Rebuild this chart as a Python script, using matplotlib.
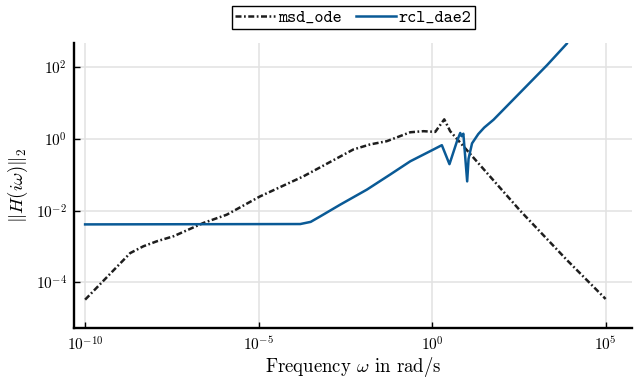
import numpy as np
import matplotlib
matplotlib.use('Agg')
import matplotlib.pyplot as plt

# frequency response magnitudes, read in log10 units
msd_logw = [-10, -8.7, -8.32, -7.93, -7.45, -6.59, -5.92, -4.96, -3.71, -2.27,
            -1.79, -1.31, -0.63, -0.25, 0.09, 0.35, 0.52, 2.54, 3.88, 5.0]
msd_logH = [-4.48, -3.18, -2.99, -2.85, -2.71, -2.34, -2.11, -1.60, -1.04, -0.29,
            -0.15, -0.06, 0.19, 0.22, 0.20, 0.55, 0.22, -2.0, -3.37, -4.46]

rcl_logw = [-10, -3.8, -3.5, -3.23, -2.65, -1.88, -1.21, -0.63, 0.04, 0.28, 0.50,
            0.72, 0.81, 0.85, 0.90, 1.01, 1.05, 1.15, 1.33, 1.5, 1.77, 2.54, 3.31, 3.88]
rcl_logH = [-2.38, -2.37, -2.31, -2.16, -1.83, -1.41, -0.99, -0.62, -0.29, -0.17, -0.70,
            -0.05, 0.17, 0.08, 0.15, -1.18, -0.55, -0.12, 0.14, 0.32, 0.54, 1.30, 2.06, 2.66]

xticks = [1e-10, 1e-5, 1e0, 1e5]
yticks = [1e-4, 1e-2, 1e0, 1e2]

plt.rcParams['font.family'] = 'serif'
plt.rcParams['font.serif'] = ['cmr10']
plt.rcParams['mathtext.fontset'] = 'cm'
plt.rcParams['axes.formatter.use_mathtext'] = True

fig = plt.figure(figsize=(6.35, 3.78), dpi=100)
ax = fig.add_axes([74/635, 50/378, 558/635, 285/378])

ax.plot(10.0**np.array(msd_logw), 10.0**np.array(msd_logH), color='#1e1e1e',
        lw=1.8, linestyle=(0, (2.4, 1.0, 0.7, 1.0)), label='msd_ode')
ax.plot(10.0**np.array(rcl_logw), 10.0**np.array(rcl_logH), color='#0a5a96',
        lw=1.8, label='rcl_dae2')

ax.set_xscale('log')
ax.set_yscale('log')
ax.set_xlim(10**-10.32, 10**5.76)
ax.set_ylim(10**-5.27, 10**2.68)
ax.set_xticks(xticks)
ax.set_yticks(yticks)
ax.minorticks_off()
ax.tick_params(direction='in', length=4, width=1, labelsize=11, pad=5)
ax.grid(True, color='#e2e2e2', lw=1.1)
ax.set_axisbelow(True)

for side in ['top', 'right']:
    ax.spines[side].set_visible(False)
for side in ['left', 'bottom']:
    ax.spines[side].set_linewidth(1.7)

ax.set_xlabel(r'Frequency $\omega$ in rad/s', fontsize=13.5, labelpad=1)
ax.set_ylabel(r'$\|H(i\omega)\|_2$', fontsize=13.5, labelpad=4)

leg = fig.legend(loc='upper center', bbox_to_anchor=(353.5/635, 1 - 6/378), ncol=2,
                 prop={'family': 'cmtt10', 'size': 12.5}, frameon=True,
                 fancybox=False, edgecolor='black', framealpha=1,
                 handlelength=2.3, handletextpad=0.15, columnspacing=0.85,
                 borderpad=0.2, borderaxespad=0)
leg.get_frame().set_linewidth(1.0)

fig.savefig('out.png', dpi=100)
